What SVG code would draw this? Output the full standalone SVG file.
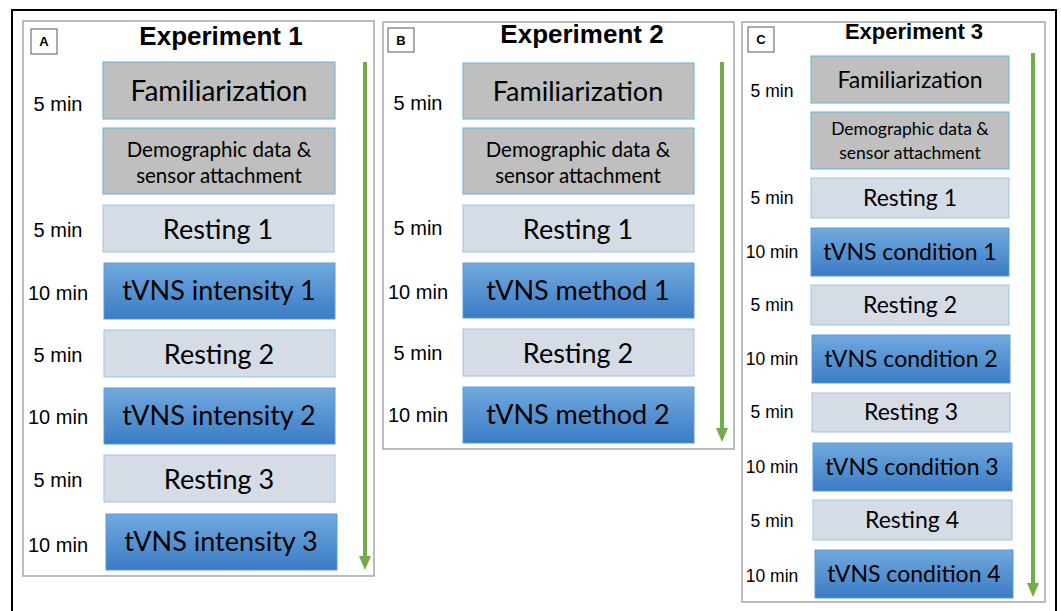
<svg xmlns="http://www.w3.org/2000/svg" width="1061" height="611" viewBox="0 0 1061 611">
<defs>
<linearGradient id="blueGrad" x1="0" y1="0" x2="0" y2="1">
<stop offset="0" stop-color="#72A9DE"/>
<stop offset="1" stop-color="#3A7CC5"/>
</linearGradient>
<marker id="greenHead" markerUnits="userSpaceOnUse" markerWidth="16" markerHeight="14" viewBox="-1 -7 16 14" refX="1" refY="0" orient="auto">
<path d="M0,-6 L14,0 L0,6 Z" fill="#70AD47"/>
</marker>
<style>
.frame{fill:none;stroke:#000;stroke-width:2}
.panel{fill:#fff;stroke:#A6A6A6;stroke-width:1.5}
.lbl{fill:#fff;stroke:#595959;stroke-width:1}
.lbltxt{font-family:"Liberation Sans",Arial,sans-serif;font-weight:bold;font-size:13px;fill:#000;text-anchor:middle}
.title{font-family:"Liberation Sans",Arial,sans-serif;font-weight:bold;fill:#000;text-anchor:middle}
.t1{font-size:26px}
.t3{font-size:22px}
.fam{fill:#BFBFBF;stroke:#5BB8D6;stroke-width:1}
.rest{fill:#D6DCE5;stroke:#9DC3E6;stroke-width:1}
.tvns{fill:url(#blueGrad);stroke:#5B9BD5;stroke-width:1}
.bx{font-family:Lato,"Open Sans",sans-serif;fill:#000;text-anchor:middle}
.bA{font-size:27px}
.fA{font-size:28px}
.dA{font-size:20.5px}
.bC{font-size:23px}
.dC{font-size:17.5px}
.tm{font-family:"Liberation Sans",Arial,sans-serif;fill:#000;text-anchor:middle}
.tmA{font-size:20px}
.tmC{font-size:17.5px}
.arrow{stroke:#70AD47;stroke-width:4;fill:none}
</style>
</defs>
<rect width="1061" height="611" fill="#fff"/>
<path class="frame" d="M12,612 V10 H1056 V612"/>

<g id="panelA">
<rect class="panel" x="23" y="21" width="351" height="555"/>
<rect class="lbl" x="31" y="29" width="26" height="25"/>
<text class="lbltxt" x="44" y="46">A</text>
<text class="title t1" x="221" y="45">Experiment 1</text>
<g class="tm tmA">
<text x="58" y="111">5 min</text>
<text x="58" y="237">5 min</text>
<text x="58" y="300">10 min</text>
<text x="58" y="362">5 min</text>
<text x="58" y="424">10 min</text>
<text x="58" y="487">5 min</text>
<text x="58" y="552">10 min</text>
</g>
</g>
<g id="A-familiarization"><rect class="fam" x="103" y="62" width="232" height="57"/><text class="bx fA" x="219" y="101">Familiarization</text></g>
<g id="A-demographic"><rect class="fam" x="103" y="128" width="232" height="66"/><text class="bx dA" x="219" y="157">Demographic data &amp;</text><text class="bx dA" x="219" y="183">sensor attachment</text></g>
<g id="A-resting1"><rect class="rest" x="103" y="205" width="231" height="47"/><text class="bx bA" x="218" y="239">Resting 1</text></g>
<g id="A-tvns1"><rect class="tvns" x="104" y="263" width="231" height="56"/><text class="bx bA" x="219" y="300">tVNS intensity 1</text></g>
<g id="A-resting2"><rect class="rest" x="104" y="330" width="231" height="47"/><text class="bx bA" x="219" y="364">Resting 2</text></g>
<g id="A-tvns2"><rect class="tvns" x="104" y="388" width="231" height="56"/><text class="bx bA" x="219" y="425">tVNS intensity 2</text></g>
<g id="A-resting3"><rect class="rest" x="104" y="455" width="231" height="47"/><text class="bx bA" x="219" y="489">Resting 3</text></g>
<g id="A-tvns3"><rect class="tvns" x="106" y="514" width="231" height="56"/><text class="bx bA" x="221" y="551">tVNS intensity 3</text></g>

<g id="panelB">
<rect class="panel" x="383" y="22" width="351" height="427"/>
<rect class="lbl" x="388" y="28" width="26" height="24"/>
<text class="lbltxt" x="401" y="45">B</text>
<text class="title t1" x="582" y="43">Experiment 2</text>
<g class="tm tmA">
<text x="418" y="110">5 min</text>
<text x="418" y="235">5 min</text>
<text x="418" y="299">10 min</text>
<text x="418" y="360">5 min</text>
<text x="418" y="422">10 min</text>
</g>
</g>
<g id="B-familiarization"><rect class="fam" x="463" y="63" width="231" height="56"/><text class="bx bA" x="578" y="101">Familiarization</text></g>
<g id="B-demographic"><rect class="fam" x="463" y="128" width="231" height="66"/><text class="bx dA" x="578" y="157">Demographic data &amp;</text><text class="bx dA" x="578" y="183">sensor attachment</text></g>
<g id="B-resting1"><rect class="rest" x="463" y="205" width="231" height="47"/><text class="bx bA" x="578" y="239">Resting 1</text></g>
<g id="B-tvns1"><rect class="tvns" x="463" y="263" width="231" height="55"/><text class="bx bA" x="578" y="300">tVNS method 1</text></g>
<g id="B-resting2"><rect class="rest" x="463" y="329" width="231" height="47"/><text class="bx bA" x="578" y="363">Resting 2</text></g>
<g id="B-tvns2"><rect class="tvns" x="463" y="387" width="231" height="56"/><text class="bx bA" x="578" y="424">tVNS method 2</text></g>

<g id="panelC">
<rect class="panel" x="742" y="22" width="303" height="580"/>
<rect class="lbl" x="748" y="27" width="26" height="25"/>
<text class="lbltxt" x="761" y="44">C</text>
<text class="title t3" x="914" y="39">Experiment 3</text>
<g class="tm tmC">
<text x="772" y="97">5 min</text>
<text x="772" y="204">5 min</text>
<text x="772" y="258">10 min</text>
<text x="772" y="311">5 min</text>
<text x="772" y="365">10 min</text>
<text x="772" y="418">5 min</text>
<text x="772" y="473">10 min</text>
<text x="772" y="527">5 min</text>
<text x="772" y="582">10 min</text>
</g>
</g>
<g id="C-familiarization"><rect class="fam" x="811" y="56" width="198" height="47"/><text class="bx bC" x="910" y="88">Familiarization</text></g>
<g id="C-demographic"><rect class="fam" x="811" y="112" width="198" height="57"/><text class="bx dC" x="910" y="135">Demographic data &amp;</text><text class="bx dC" x="910" y="159">sensor attachment</text></g>
<g id="C-resting1"><rect class="rest" x="811" y="178" width="198" height="40"/><text class="bx bC" x="910" y="206">Resting 1</text></g>
<g id="C-tvns1"><rect class="tvns" x="811" y="228" width="198" height="48"/><text class="bx bC" x="910" y="260">tVNS condition 1</text></g>
<g id="C-resting2"><rect class="rest" x="811" y="285" width="198" height="40"/><text class="bx bC" x="910" y="313">Resting 2</text></g>
<g id="C-tvns2"><rect class="tvns" x="812" y="335" width="198" height="48"/><text class="bx bC" x="911" y="367">tVNS condition 2</text></g>
<g id="C-resting3"><rect class="rest" x="812" y="393" width="198" height="39"/><text class="bx bC" x="911" y="420">Resting 3</text></g>
<g id="C-tvns3"><rect class="tvns" x="813" y="443" width="199" height="48"/><text class="bx bC" x="912" y="475">tVNS condition 3</text></g>
<g id="C-resting4"><rect class="rest" x="813" y="500" width="199" height="40"/><text class="bx bC" x="912" y="528">Resting 4</text></g>
<g id="C-tvns4"><rect class="tvns" x="815" y="550" width="198" height="48"/><text class="bx bC" x="914" y="582">tVNS condition 4</text></g>

<g id="connectors">
<line class="arrow" x1="365" y1="62" x2="365" y2="557" marker-end="url(#greenHead)"/>
<line class="arrow" x1="722" y1="62" x2="722" y2="429" marker-end="url(#greenHead)"/>
<line class="arrow" x1="1033" y1="53" x2="1033" y2="584" marker-end="url(#greenHead)"/>
</g>
</svg>
